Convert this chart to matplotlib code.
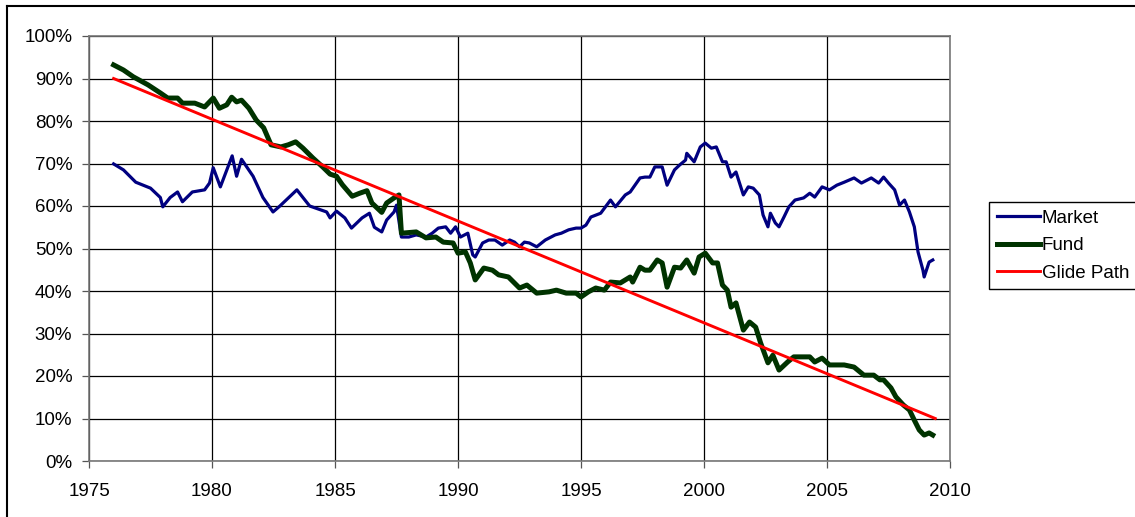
import matplotlib.pyplot as plt
from matplotlib.lines import Line2D
from matplotlib.ticker import FuncFormatter

plt.rcParams['font.family'] = ['Liberation Sans', 'DejaVu Sans']

######## Data ########
market_years = [1976.0, 1976.4, 1976.9, 1977.5, 1977.9, 1978.0, 1978.3, 1978.6, 1978.8, 1979.2,
                1979.7, 1979.9, 1980.05, 1980.34, 1980.82, 1981.0, 1981.2, 1981.67, 1982.07, 1982.48,
                1982.76, 1983.45, 1983.97, 1984.66, 1984.8, 1985.06, 1985.4, 1985.67, 1986.1, 1986.4,
                1986.6, 1986.9, 1987.1, 1987.4, 1987.5, 1987.7, 1988.0, 1988.3, 1988.7, 1988.95,
                1989.2, 1989.5, 1989.7, 1989.9, 1990.1, 1990.4, 1990.6, 1990.7, 1991.0, 1991.25,
                1991.5, 1991.8, 1992.1, 1992.3, 1992.5, 1992.7, 1992.9, 1993.2, 1993.55, 1993.95,
                1994.2, 1994.5, 1994.8, 1995.0, 1995.2, 1995.4, 1995.8, 1996.2, 1996.4, 1996.8,
                1997.0, 1997.4, 1997.6, 1997.8, 1998.0, 1998.3, 1998.5, 1998.8, 1999.0, 1999.25,
                1999.3, 1999.6, 1999.85, 2000.05, 2000.3, 2000.5, 2000.75, 2000.9, 2001.1, 2001.3,
                2001.6, 2001.8, 2002.0, 2002.25, 2002.4, 2002.6, 2002.7, 2002.9, 2003.05, 2003.25,
                2003.45, 2003.7, 2004.05, 2004.3, 2004.5, 2004.8, 2005.1, 2005.4, 2005.7, 2006.1,
                2006.4, 2006.8, 2007.1, 2007.3, 2007.5, 2007.75, 2007.95, 2008.15, 2008.35, 2008.55,
                2008.7, 2008.9, 2008.95, 2009.15, 2009.3]
market_vals = [69.9, 68.5, 65.6, 64.2, 62.0, 59.8, 62.0, 63.3, 61.0, 63.3,
               63.8, 65.4, 69.0, 64.5, 71.8, 67.0, 71.0, 67.0, 62.0, 58.6,
               60.0, 63.8, 60.0, 58.6, 57.2, 58.8, 57.2, 54.8, 57.2, 58.3,
               55.0, 53.9, 56.7, 58.6, 60.2, 52.7, 52.7, 53.2, 52.7, 53.6,
               54.8, 55.1, 53.6, 55.1, 52.7, 53.6, 48.5, 48.0, 51.3, 52.0,
               52.0, 50.8, 52.0, 51.5, 50.4, 51.5, 51.3, 50.4, 52.0, 53.2,
               53.6, 54.4, 54.8, 54.8, 55.5, 57.4, 58.3, 61.4, 59.8, 62.6,
               63.3, 66.6, 66.8, 66.8, 69.2, 69.2, 64.9, 68.5, 69.6, 70.8,
               72.4, 70.4, 73.9, 74.8, 73.6, 73.9, 70.4, 70.4, 66.8, 68.0,
               62.6, 64.5, 64.2, 62.6, 57.9, 55.1, 58.3, 56.0, 55.1, 57.4,
               59.8, 61.4, 61.9, 63.0, 62.1, 64.5, 63.8, 64.9, 65.6, 66.6,
               65.4, 66.6, 65.4, 66.8, 65.4, 63.8, 60.2, 61.4, 58.6, 55.1,
               49.2, 44.9, 43.3, 46.8, 47.3]

fund_years = [1976.0, 1976.4, 1976.8, 1977.4, 1977.9, 1978.2, 1978.6, 1978.8, 1979.3, 1979.7,
              1980.05, 1980.3, 1980.6, 1980.8, 1981.0, 1981.2, 1981.5, 1981.8, 1982.1, 1982.4,
              1982.8, 1983.1, 1983.4, 1983.7, 1984.1, 1984.5, 1984.8, 1985.06, 1985.3, 1985.7,
              1986.0, 1986.3, 1986.5, 1986.9, 1987.1, 1987.4, 1987.6, 1987.7, 1988.3, 1988.7,
              1989.1, 1989.4, 1989.8, 1990.0, 1990.3, 1990.5, 1990.7, 1991.05, 1991.4, 1991.65,
              1992.05, 1992.5, 1992.8, 1993.2, 1993.7, 1994.0, 1994.4, 1994.8, 1995.0, 1995.3,
              1995.6, 1995.95, 1996.2, 1996.6, 1997.0, 1997.1, 1997.4, 1997.6, 1997.8, 1998.1,
              1998.3, 1998.5, 1998.8, 1999.05, 1999.3, 1999.6, 1999.8, 2000.05, 2000.35, 2000.55,
              2000.75, 2000.95, 2001.1, 2001.3, 2001.6, 2001.85, 2002.1, 2002.3, 2002.6, 2002.8,
              2003.05, 2003.4, 2003.65, 2004.05, 2004.3, 2004.5, 2004.8, 2005.1, 2005.7, 2006.1,
              2006.5, 2006.9, 2007.15, 2007.3, 2007.6, 2007.8, 2008.1, 2008.35, 2008.55, 2008.75,
              2008.95, 2009.15, 2009.3]
fund_vals = [93.2, 92.0, 90.4, 88.5, 86.6, 85.4, 85.4, 84.2, 84.2, 83.3,
             85.4, 83.0, 83.8, 85.6, 84.5, 84.9, 83.0, 80.2, 78.4, 74.4,
             73.9, 74.4, 75.1, 73.6, 71.3, 69.2, 67.5, 67.0, 65.0, 62.3,
             63.0, 63.6, 60.7, 58.5, 60.7, 61.9, 62.6, 53.6, 53.9, 52.5,
             52.7, 51.5, 51.3, 48.9, 49.2, 46.6, 42.6, 45.4, 44.9, 43.8,
             43.3, 40.7, 41.4, 39.5, 39.8, 40.2, 39.5, 39.5, 38.6, 39.8,
             40.7, 40.2, 42.1, 41.9, 43.3, 42.1, 45.6, 44.9, 44.9, 47.3,
             46.6, 40.9, 45.6, 45.4, 47.3, 44.2, 48.0, 48.9, 46.6, 46.6,
             41.4, 40.2, 36.2, 37.2, 30.8, 32.7, 31.5, 27.8, 23.1, 24.9,
             21.4, 23.3, 24.5, 24.5, 24.5, 23.3, 24.2, 22.6, 22.6, 22.1,
             20.2, 20.2, 19.1, 19.1, 17.2, 15.1, 13.2, 12.0, 9.6, 7.3,
             6.1, 6.6, 6.1]

glide_years = [1976.0, 2009.4]
glide_vals = [90.0, 10.0]

x_ticks = [1975, 1980, 1985, 1990, 1995, 2000, 2005, 2010]
y_ticks = [0, 10, 20, 30, 40, 50, 60, 70, 80, 90, 100]

######## Plot ########
fig = plt.figure(figsize=(11.35, 5.17), dpi=100)
ax = fig.add_axes([89 / 1135, 56 / 517, 861 / 1135, 425 / 517])

ax.plot(market_years, market_vals, color='#000080', lw=2.3, label='Market')
ax.plot(fund_years, fund_vals, color='#003300', lw=3.6, label='Fund')
ax.plot(glide_years, glide_vals, color='#ff0000', lw=2.1, label='Glide Path')

ax.set_xlim(1975, 2010)
ax.set_ylim(0, 100)
ax.set_xticks(x_ticks)
ax.set_yticks(y_ticks)
ax.yaxis.set_major_formatter(FuncFormatter(lambda v, p: f"{int(v)}%"))
ax.grid(True, color='black', lw=0.9)
ax.set_axisbelow(True)
ax.tick_params(labelsize=13.5, length=5, width=0.9, color='#555555')
ax.tick_params(axis='x', pad=11)
ax.tick_params(axis='y', pad=7)
for s in ax.spines.values():
    s.set_color('#777777')
    s.set_linewidth(1.2)

ax.legend(loc='upper left', bbox_to_anchor=(989 / 1135, 1 - 202 / 517), bbox_transform=fig.transFigure,
          fontsize=13.5, frameon=True, fancybox=False, edgecolor='black', framealpha=1,
          handlelength=2.3, handletextpad=0.1, borderpad=0.4, labelspacing=0.55, borderaxespad=0)

# outer chart border (left and top only visible)
fig.add_artist(Line2D([7 / 1135, 7 / 1135], [0, 1 - 6 / 517], transform=fig.transFigure, color='black', lw=1.5))
fig.add_artist(Line2D([7 / 1135, 1], [1 - 6 / 517, 1 - 6 / 517], transform=fig.transFigure, color='black', lw=1.5))

plt.savefig('out.png', dpi=100)
